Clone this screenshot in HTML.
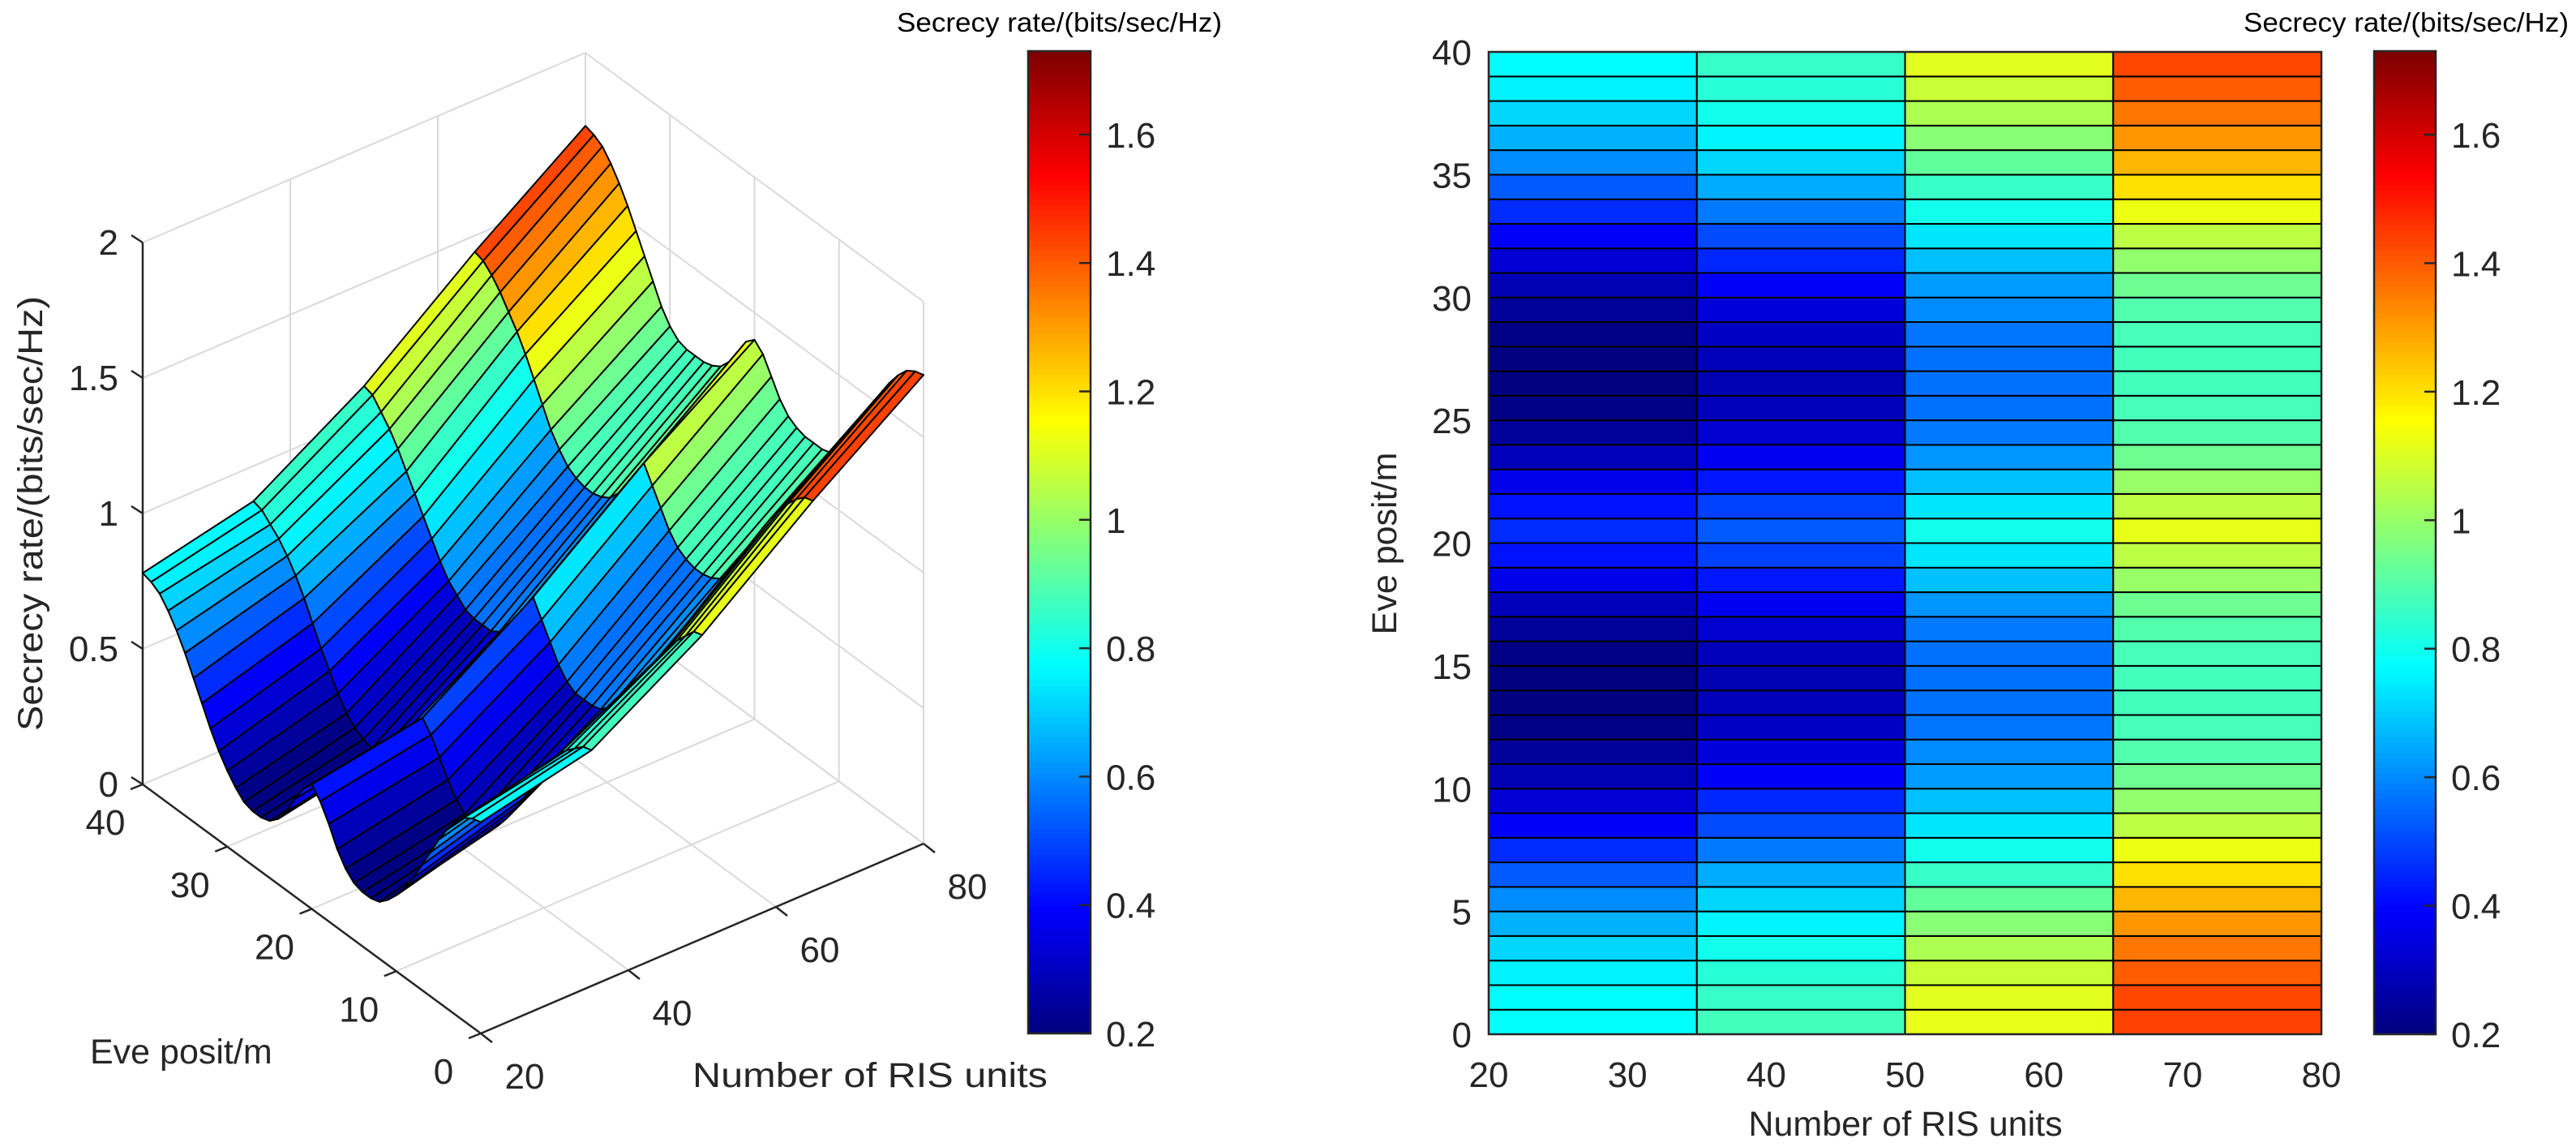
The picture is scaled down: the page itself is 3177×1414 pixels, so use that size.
<!DOCTYPE html>
<html><head><meta charset="utf-8"><style>
html,body{margin:0;padding:0;background:#fff;}
svg{display:block;font-family:"Liberation Sans",Arial,sans-serif;}
</style></head><body>
<svg id="fig" width="3177" height="1414" viewBox="0 0 3177 1414" xmlns="http://www.w3.org/2000/svg">
<g id="p3d"></g>
<g id="cb1"></g>
<g id="hm"></g>
<g id="cb2"></g>
<text x="0" y="0" transform="translate(52,633) rotate(-90)" text-anchor="middle" font-size="43" fill="#262626" textLength="536" lengthAdjust="spacingAndGlyphs">Secrecy rate/(bits/sec/Hz)</text>
<text x="111" y="1311" font-size="43" fill="#262626">Eve posit/m</text>
<text x="854" y="1340" font-size="43" fill="#262626" textLength="438" lengthAdjust="spacingAndGlyphs">Number of RIS units</text>
<text x="1106" y="39" font-size="33" fill="#000" textLength="401" lengthAdjust="spacingAndGlyphs">Secrecy rate/(bits/sec/Hz)</text>
<text x="2767" y="39" font-size="33" fill="#000" textLength="401" lengthAdjust="spacingAndGlyphs">Secrecy rate/(bits/sec/Hz)</text>
<text x="2350" y="1400" text-anchor="middle" font-size="43" fill="#262626">Number of RIS units</text>
<text x="0" y="0" transform="translate(1722,670) rotate(-90)" text-anchor="middle" font-size="43" fill="#262626">Eve posit/m</text>
</svg>
<script>
const xs=[20,35,50,65,80];
const ys=[0,1,2,3,4,5,6,7,8,9,10,11,12,13,14,15,16,17,18,19,20,21,22,23,24,25,26,27,28,29,30,31,32,33,34,35,36,37,38,39,40];
const z20=[.78,.77,.75,.71,.66,.60,.53,.46,.39,.33,.28,.24,.21,.20,.20,.21,.24,.29,.36,.42,.46,.42,.36,.29,.24,.21,.20,.20,.21,.24,.28,.33,.39,.46,.53,.60,.66,.71,.75,.77,.78];
const z35=[.87,.86,.83,.80,.76,.71,.65,.58,.51,.45,.39,.34,.31,.29,.28,.29,.32,.37,.43,.49,.53,.49,.43,.37,.32,.29,.28,.29,.31,.34,.39,.45,.51,.58,.65,.71,.76,.80,.83,.86,.87];
const z50=[1.12,1.11,1.07,1.03,.98,.92,.86,.80,.74,.68,.63,.60,.57,.56,.56,.56,.58,.62,.68,.74,.80,.74,.68,.62,.58,.56,.56,.56,.57,.60,.63,.68,.74,.80,.86,.92,.98,1.03,1.07,1.11,1.12];
const z65=[1.44,1.43,1.40,1.36,1.31,1.26,1.20,1.13,1.06,.99,.94,.90,.88,.87,.87,.88,.90,.94,1.00,1.06,1.12,1.06,1.00,.94,.90,.88,.87,.87,.88,.90,.94,.99,1.06,1.13,1.20,1.26,1.31,1.36,1.40,1.43,1.44];
const z80=[1.73,1.72,1.70,1.66,1.61,1.55,1.48,1.41,1.34,1.27,1.22,1.19,1.18,1.18,1.18,1.19,1.21,1.25,1.31,1.37,1.40,1.37,1.31,1.25,1.21,1.19,1.18,1.18,1.18,1.19,1.22,1.27,1.34,1.41,1.48,1.55,1.61,1.66,1.70,1.72,1.73];
const cbTicks=[0.2,0.4,0.6,0.8,1.0,1.2,1.4,1.6];
const zTicks=[0,0.5,1,1.5,2];
const xTicks3=[20,40,60,80];
const yTicks3=[0,10,20,30,40];
const hmXTicks=[20,30,40,50,60,70,80];
const hmYTicks=[0,5,10,15,20,25,30,35,40];
const CMIN=0.2, CMAX=1.73;
const Z=[z20,z35,z50,z65,z80];
const NS="http://www.w3.org/2000/svg";
function mk(tag,attrs,parent){const e=document.createElementNS(NS,tag);for(const k in attrs)e.setAttribute(k,attrs[k]);parent.appendChild(e);return e;}
function cl(v){return Math.max(0,Math.min(1,v));}
function jet(v){let t=(v-CMIN)/(CMAX-CMIN);t=cl(t);t=Math.min(191,Math.floor(t*192))/191;
 const r=cl(1.5-Math.abs(4*t-3)),g=cl(1.5-Math.abs(4*t-2)),b=cl(1.5-Math.abs(4*t-1));
 return `rgb(${Math.round(r*255)},${Math.round(g*255)},${Math.round(b*255)})`;}
function P(x,y,z){const xn=(x-20)/60,yn=y/40,zn=z/2;return [593+546*xn-417*yn,1274-234*xn-307*yn-668*zn];}
const g3=document.getElementById('p3d');
function line3(a,b,col,w,name){const p=P(...a),q=P(...b);const l=mk('line',{x1:p[0],y1:p[1],x2:q[0],y2:q[1],stroke:col,'stroke-width':w},g3);
 
 }
const GC="#d9d9d9";
xTicks3.forEach(x=>{line3([x,0,0],[x,40,0],GC,2,'floor-grid-x');line3([x,40,0],[x,40,2],GC,2,'wall-grid-x');});
yTicks3.forEach(y=>{line3([20,y,0],[80,y,0],GC,2,'floor-grid-y');line3([80,y,0],[80,y,2],GC,2,'wall-grid-y');});
zTicks.forEach(z=>{line3([20,40,z],[80,40,z],GC,2,'wall-grid-z');line3([80,0,z],[80,40,z],GC,2,'wall-grid-z');});
const AC="#262626";
line3([20,0,0],[20,40,0],AC,2.5,'y-axis-line-3d');
line3([20,0,0],[80,0,0],AC,2.5,'x-axis-line-3d');
line3([20,40,0],[20,40,2],AC,2.5,'z-axis-line');
function tick(p,dx,dy,name){const l=mk('line',{x1:p[0],y1:p[1],x2:p[0]+dx,y2:p[1]+dy,stroke:AC,'stroke-width':2.5},g3);
 
 }
function txt(parent,x,y,s,anchor,size,name){const t=mk('text',{x:x,y:y,'text-anchor':anchor,'font-size':size,fill:'#262626'},parent);t.textContent=s;
 
 return t;}
zTicks.forEach(z=>{const p=P(20,40,z);tick(p,-14,-9,'z-tick');txt(g3,p[0]-30,p[1]+15,String(z),'end',44,'z-tick-label');});
yTicks3.forEach(y=>{const p=P(20,y,0);tick(p,-15,6,'y-tick-3d');txt(g3,p[0]-46,p[1]+62,String(y),'middle',44,'y-tick-label-3d');});
xTicks3.forEach(x=>{const p=P(x,0,0);tick(p,14,11,'x-tick-3d');txt(g3,p[0]+54,p[1]+68,String(x),'middle',44,'x-tick-label-3d');});
const quads=[];
for(let i=0;i<xs.length-1;i++)for(let j=0;j<ys.length-1;j++){
 const xc=(xs[i]+xs[i+1])/2,yc=(ys[j]+ys[j+1])/2;
 quads.push({i,j,d:345*(xc-20)/60+456*yc/40});}
quads.sort((a,b)=>b.d-a.d);
const gs=mk('g',{},g3);


quads.forEach(q=>{const {i,j}=q;
 const pts=[P(xs[i],ys[j],Z[i][j]),P(xs[i+1],ys[j],Z[i+1][j]),P(xs[i+1],ys[j+1],Z[i+1][j+1]),P(xs[i],ys[j+1],Z[i][j+1])];
 const poly=mk('polygon',{points:pts.map(p=>p[0].toFixed(1)+','+p[1].toFixed(1)).join(' '),fill:jet(Z[i][j]),stroke:'#000','stroke-width':2,'stroke-linejoin':'round'},gs);
 
 });
function colorbar(gid,x0,x1,top,bot){const g=document.getElementById(gid);
 const N=192;const sy=v=>bot-(v-CMIN)/(CMAX-CMIN)*(bot-top);
 for(let k=0;k<N;k++){const v0=CMIN+(CMAX-CMIN)*k/N,v1=CMIN+(CMAX-CMIN)*(k+1)/N;
  const r=mk('rect',{x:x0,y:sy(v1),width:x1-x0,height:sy(v0)-sy(v1)+0.6,fill:jet((v0+v1)/2)},g);
  
  }
 const fr=mk('rect',{x:x0,y:top,width:x1-x0,height:bot-top,fill:'none',stroke:'#262626','stroke-width':2.5},g);
 
 
 cbTicks.forEach(v=>{const y=sy(v);const l=mk('line',{x1:x1-14,y1:y,x2:x1,y2:y,stroke:'#262626','stroke-width':2.5},g);
  
  
  txt(g,x1+19,y+16,v.toFixed(1).replace(/\.0$/,'') ,'start',44,'colorbar-tick-label');});}
colorbar('cb1',1268,1345,63,1274);
colorbar('cb2',2928,3004,63,1275);
const gh=document.getElementById('hm');
const HX=x=>1836+(x-20)/60*1027, HY=y=>1275-y/40*1211;
for(let i=0;i<xs.length-1;i++)for(let j=0;j<ys.length-1;j++){
 const r=mk('rect',{x:HX(xs[i]),y:HY(ys[j+1]),width:HX(xs[i+1])-HX(xs[i]),height:HY(ys[j])-HY(ys[j+1]),fill:jet(Z[i][j]),stroke:'#000','stroke-width':2},gh);
 
 }
const ax=mk('rect',{x:1836,y:64,width:1027,height:1211,fill:'none',stroke:'#262626','stroke-width':2.5},gh);


hmXTicks.forEach(x=>{txt(gh,HX(x),1340,String(x),'middle',44,'heatmap-x-tick-label');});
hmYTicks.forEach(y=>{txt(gh,1815,HY(y)+16,String(y),'end',44,'heatmap-y-tick-label');});
</script>
</body></html>
